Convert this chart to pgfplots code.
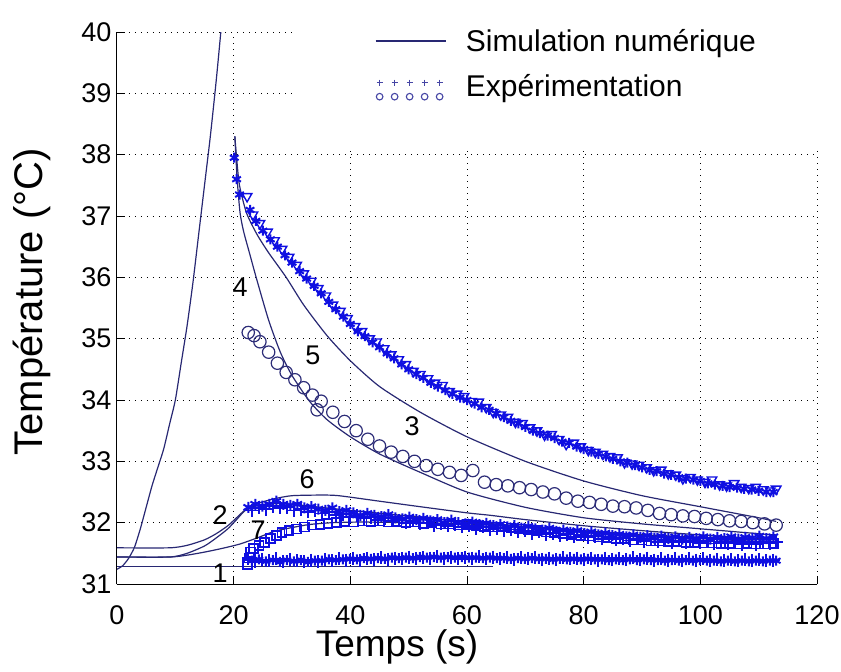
\documentclass[border=0pt]{standalone}
\usepackage{fontspec}
\setmainfont{Liberation Sans}
\usepackage{pgfplots}
\pgfplotsset{compat=1.18}
\definecolor{simline}{RGB}{40,40,115}
\definecolor{expblue}{RGB}{15,15,225}
\definecolor{circ}{RGB}{45,45,120}
\definecolor{legmark}{RGB}{70,70,165}
\newcommand{\fs}[1]{\fontsize{#1}{#1}\selectfont}
\pgfplotsset{
  simlegend/.style={legend image code/.code={\draw[simline, line width=1.2pt] (0pt,0pt) -- (70pt,0pt); \path (88pt,0pt);}},
  explegend/.style={legend image code/.code={
    \draw[legmark, only marks, mark=+, mark size=3pt, mark options={line width=1.1pt}] plot coordinates {(4pt,4pt) (19pt,4pt) (34pt,4pt) (49pt,4pt) (64pt,4pt)};
    \draw[legmark, only marks, mark=o, mark size=3.3pt, mark options={line width=1.1pt}] plot coordinates {(4pt,-10pt) (19pt,-10pt) (34pt,-10pt) (49pt,-10pt) (64pt,-10pt)};
    \path (88pt,0pt);}},
  simstyle/.style={simline, line width=1.2pt, smooth, tension=0.4, forget plot},
}
\begin{document}
\begin{tikzpicture}
\useasboundingbox (-117pt,-88pt) rectangle (724pt,584pt);
\begin{axis}[
  scale only axis, width=700pt, height=552pt,
  xmin=0, xmax=120, ymin=31, ymax=40,
  xtick={0,20,...,120}, ytick={31,32,...,40},
  axis x line*=bottom, axis y line*=left,
  axis line style={black, line width=1pt},
  tick align=inside, major tick length=8pt,
  tick style={black, line width=1pt},
  grid=major,
  major grid style={black, line width=1pt, dash pattern=on 1pt off 5pt},
  ticklabel style={font=\fs{27}},
  xticklabel style={yshift=-18pt},
  yticklabel style={xshift=-2pt},
  /pgf/number format/assume math mode=true,
  clip mode=individual,
  legend style={at={(axis cs:44.2,40.08)}, anchor=north west, draw=none, fill=none,
    font=\fs{30}, row sep=18pt, inner sep=0pt},
  legend cell align=left,
]
% ---------- simulation lines ----------
\addplot[simstyle] coordinates {
(0,31.24) (1,31.3) (2,31.42) (3,31.6) (4,31.9) (5,32.25) (6,32.6) (7,32.9) (8,33.2) (9,33.6)
(10,34.0) (11,34.6) (12,35.2) (13,35.9) (14,36.7) (15,37.5) (16,38.3) (17,39.2) (17.8,40)};
\addplot[simstyle] coordinates {
(20.2,38.3) (20.6,37.6) (21.1,37.05) (21.7,36.75) (22.7,36.4) (24,35.95) (26,35.3) (28,34.78)
(30,34.4) (33,33.98) (36,33.68) (40,33.4) (45,33.12) (52,32.82) (60,32.5) (70,32.25)
(80,32.08) (90,31.98) (100,31.9) (110,31.82) (113,31.8)};
\addplot[simstyle] coordinates {
(20.2,38.3) (20.5,37.95) (21,37.5) (22.2,37.05) (24,36.7) (26,36.4) (29,36.0) (32,35.55)
(36,35.05) (40,34.64) (45,34.22) (52,33.8) (60,33.4) (70,33.0) (80,32.68) (90,32.44)
(100,32.26) (110,32.08) (113,32.02)};
\addplot[simstyle] coordinates {
(0,31.44) (9,31.44) (12,31.5) (15,31.62) (17,31.75) (19,31.9) (20.5,32.05) (22,32.2)
(24,32.28) (27,32.31) (30,32.3) (40,32.2) (60,32.02) (80,31.86) (100,31.76) (113,31.74)};
\addplot[simstyle] coordinates {
(0,31.59) (9,31.59) (12,31.63) (15,31.72) (17,31.82) (19,31.95) (20.5,32.08) (22,32.21)
(24,32.31) (27,32.39) (30,32.44) (35,32.45) (38,32.44) (45,32.35) (52,32.26) (60,32.16)
(64,32.12) (70,32.05) (80,31.95) (90,31.87) (100,31.8) (113,31.72)};
\addplot[simstyle] coordinates {
(0,31.44) (9,31.44) (12,31.47) (15,31.52) (18,31.58) (21,31.65) (24,31.75) (27,31.86)
(30,31.92) (33,31.97) (37,32.0) (42,32.01) (50,32.0) (60,31.98) (70,31.93) (80,31.87)
(90,31.8) (100,31.74) (113,31.68)};
\addplot[simline, line width=1.2pt, forget plot] coordinates {(0,31.28) (64.4,31.28)};
% ---------- experiments ----------
% curve 5 : triangles
\addplot[expblue, only marks, mark=triangle, mark size=5.5pt, mark options={rotate=180, line width=1.4pt}, forget plot] coordinates {
(22.3,37.32) (23.3,37.02) (24.5,36.88) (25.8,36.74) (27,36.6) (28.3,36.46) (29.5,36.33) (30.8,36.2)
(32,36.06) (33.3,35.94) (34.5,35.82) (35.8,35.7) (37,35.55) (38.3,35.45) (39.5,35.33) (40.8,35.2)
(42,35.12) (43.3,35.0) (44.5,34.95) (45.8,34.84) (47,34.74) (48.3,34.66) (49.5,34.58) (50.8,34.47)
(52,34.42) (53.3,34.35) (54.5,34.28) (55.8,34.24) (57,34.14) (58.3,34.1) (59.5,34.06) (60.8,33.98)
(62,33.97) (63.3,33.88) (64.5,33.8) (65.8,33.76) (67,33.72) (68.3,33.64) (69.5,33.62) (70.8,33.55)
(72,33.5) (73.3,33.43) (74.5,33.44) (75.8,33.36) (77,33.28) (78.3,33.3) (79.5,33.24) (80.8,33.18)
(82,33.15) (83.3,33.12) (84.5,33.08) (85.8,33.06) (87,32.98) (88.3,32.96) (89.5,32.94) (90.8,32.9)
(92,32.85) (93.3,32.86) (94.5,32.8) (95.8,32.78) (97,32.72) (98.3,32.74) (99.5,32.7) (100.8,32.66)
(102,32.7) (103.3,32.62) (104.5,32.6) (105.8,32.64) (107,32.58) (108.3,32.56) (109.5,32.58)
(110.8,32.54) (112,32.52) (113,32.55)};
% curve 5 : stars
\addplot[expblue, only marks, mark=asterisk, mark size=5pt, mark options={line width=2pt}, forget plot] coordinates {
(20.1,37.95) (20.5,37.6) (21,37.35) (22.8,37.1) (23.8,36.92) (25,36.76) (26.3,36.62) (27.5,36.5)
(28.8,36.36) (30,36.24) (31.3,36.1) (32.5,35.98) (33.8,35.86) (35,35.74) (36.3,35.6) (37.5,35.48)
(38.8,35.36) (40,35.24) (41.3,35.12) (42.5,35.04) (43.8,34.94) (45,34.86) (46.3,34.76) (47.5,34.68)
(48.8,34.58) (50,34.5) (51.3,34.42) (52.5,34.36) (53.8,34.28) (55,34.22) (56.3,34.16) (57.5,34.1)
(58.8,34.04) (60,34.0) (61.3,33.94) (62.5,33.88) (63.8,33.84) (65,33.78) (66.3,33.72) (67.5,33.66)
(68.8,33.62) (70,33.56) (71.3,33.5) (72.5,33.46) (73.8,33.42) (75,33.38) (76.3,33.32) (77.5,33.3)
(78.8,33.24) (80,33.2) (81.3,33.16) (82.5,33.12) (83.8,33.08) (85,33.04) (86.3,33.0) (87.5,32.98)
(88.8,32.94) (90,32.9) (91.3,32.86) (92.5,32.84) (93.8,32.8) (95,32.78) (96.3,32.74) (97.5,32.72)
(98.8,32.7) (100,32.68) (101.3,32.64) (102.5,32.62) (103.8,32.6) (105,32.58) (106.3,32.57)
(107.5,32.55) (108.8,32.54) (110,32.52) (111.3,32.5) (112.5,32.5)};
% curve 4 : circles
\addplot[circ, only marks, mark=o, mark size=6.2pt, mark options={line width=1.2pt}, forget plot] coordinates {
(22.5,35.1) (23.5,35.05) (24.5,34.95) (26,34.78) (27.5,34.6) (29,34.45) (30.5,34.33) (32,34.2)
(33.5,34.08) (34.3,33.84) (35,33.98) (37,33.8) (39,33.65) (41,33.5) (43,33.36) (45,33.25)
(47,33.15) (49,33.08) (51,33.0) (53,32.93) (55,32.87) (57,32.82) (59,32.77) (61,32.85) (63,32.66)
(65,32.62) (67,32.6) (69,32.57) (71,32.54) (73,32.5) (75,32.47) (77,32.4) (79,32.35) (81,32.33)
(83,32.3) (85,32.27) (87,32.26) (89,32.24) (91,32.2) (93,32.15) (95,32.13) (97,32.11) (99,32.1)
(101,32.07) (103,32.05) (105,32.03) (107,32.02) (109,32.0) (111,31.98) (113,31.96)};
% curve 6 : stars
\addplot[expblue, only marks, mark=asterisk, mark size=5.5pt, mark options={line width=2pt}, forget plot] coordinates {
(22.5,32.25) (23.7,32.3) (24.9,32.27) (26.1,32.3) (27.3,32.35) (28.5,32.3) (29.7,32.28) (30.9,32.3)
(32.1,32.24) (33.3,32.26) (34.5,32.22) (35.7,32.2) (36.9,32.24) (38.1,32.18) (39.3,32.2) (40.5,32.16)
(41.7,32.12) (42.9,32.15) (44.1,32.12) (45.3,32.1) (46.5,32.13) (47.7,32.08) (48.9,32.06) (50.1,32.09)
(51.3,32.05) (52.5,32.07) (53.7,32.03) (54.9,32.05) (56.1,32.0) (57.3,32.04) (58.5,32.0) (59.7,31.98)
(60.9,32.01) (62.1,31.97) (63.3,31.99) (64.5,31.95) (65.7,31.97) (66.9,31.93) (68.1,31.95) (69.3,31.91)
(70.5,31.94) (71.7,31.9) (72.9,31.88) (74.1,31.91) (75.3,31.86) (76.5,31.88) (77.7,31.84) (78.9,31.87)
(80.1,31.82) (81.3,31.85) (82.5,31.8) (83.7,31.83) (84.9,31.79) (86.1,31.81) (87.3,31.77) (88.5,31.8)
(89.7,31.76) (90.9,31.79) (92.1,31.75) (93.3,31.78) (94.5,31.74) (95.7,31.77) (96.9,31.73) (98.1,31.76)
(99.3,31.74) (100.5,31.77) (101.7,31.73) (102.9,31.76) (104.1,31.74) (105.3,31.77) (106.5,31.73)
(107.7,31.76) (108.9,31.75) (110.1,31.78) (111.3,31.74) (112.5,31.77)};
% curve 6 : pluses
\addplot[expblue, only marks, mark=+, mark size=6.5pt, mark options={line width=1.8pt}, forget plot] coordinates {
(23.1,32.2) (24.3,32.24) (25.5,32.22) (26.7,32.27) (27.9,32.24) (29.1,32.25) (30.3,32.2) (31.5,32.22)
(32.7,32.18) (33.9,32.2) (35.1,32.15) (36.3,32.17) (37.5,32.12) (38.7,32.14) (39.9,32.1) (41.1,32.11)
(42.3,32.07) (43.5,32.09) (44.7,32.05) (45.9,32.07) (47.1,32.03) (48.3,32.04) (49.5,32.0) (50.7,32.03)
(51.9,31.99) (53.1,32.0) (54.3,31.96) (55.5,31.98) (56.7,31.95) (57.9,31.97) (59.1,31.93) (60.3,31.95)
(61.5,31.91) (62.7,31.93) (63.9,31.89) (65.1,31.91) (66.3,31.87) (67.5,31.89) (68.7,31.85) (69.9,31.87)
(71.1,31.83) (72.3,31.85) (73.5,31.81) (74.7,31.83) (75.9,31.79) (77.1,31.81) (78.3,31.77) (79.5,31.8)
(80.7,31.76) (81.9,31.78) (83.1,31.74) (84.3,31.77) (85.5,31.73) (86.7,31.75) (87.9,31.71) (89.1,31.74)
(90.3,31.7) (91.5,31.73) (92.7,31.69) (93.9,31.72) (95.1,31.68) (96.3,31.71) (97.5,31.68) (98.7,31.7)
(99.9,31.67) (101.1,31.7) (102.3,31.66) (103.5,31.69) (104.7,31.66) (105.9,31.69) (107.1,31.65)
(108.3,31.68) (109.5,31.65) (110.7,31.68) (111.9,31.66) (113,31.68)};
% curve 7 : squares
\addplot[expblue, only marks, mark=square, mark size=4.5pt, mark options={line width=1.5pt}, forget plot] coordinates {
(22.4,31.32) (22.6,31.42) (22.9,31.52) (23.4,31.58) (24.3,31.63) (25.3,31.68) (26.3,31.74) (27.3,31.79)
(28.3,31.84) (29.5,31.87) (30.8,31.9) (32.1,31.93) (33.4,31.96) (34.8,31.97) (36.2,31.99) (37.6,32.0)
(39,32.02) (40.5,32.01) (42,32.03) (43.5,32.02) (45,32.03) (46.5,32.01) (48,32.02) (49.5,32.0)
(51,32.01) (52.5,31.99) (54,32.0) (55.5,31.98) (57,31.98) (58.5,31.96) (60,31.97) (61.5,31.95)
(63,31.94) (64.5,31.93) (66,31.93) (67.5,31.91) (69,31.9) (70.5,31.88) (72,31.87) (73.5,31.85)
(75,31.84) (76.5,31.82) (78,31.81) (79.5,31.79) (81,31.78) (82.5,31.77) (84,31.76) (85.5,31.74)
(87,31.74) (88.5,31.72) (90,31.72) (91.5,31.7) (93,31.7) (94.5,31.69) (96,31.69) (97.5,31.68)
(99,31.68) (100.5,31.67) (102,31.67) (103.5,31.66) (105,31.66) (106.5,31.65) (108,31.66)
(109.5,31.65) (111,31.65) (112.5,31.66)};
% curve 1 : pluses
\addplot[expblue, only marks, mark=+, mark size=6.5pt, mark options={line width=1.8pt}, forget plot] coordinates {
(22.5,31.42) (23.7,31.36) (24.9,31.4) (26.1,31.38) (27.3,31.41) (28.5,31.37) (29.7,31.4) (30.9,31.38)
(32.1,31.36) (33.3,31.39) (34.5,31.37) (35.7,31.4) (36.9,31.38) (38.1,31.41) (39.3,31.39) (40.5,31.42)
(41.7,31.39) (42.9,31.41) (44.1,31.4) (45.3,31.43) (46.5,31.4) (47.7,31.42) (48.9,31.41) (50.1,31.44)
(51.3,31.41) (52.5,31.43) (53.7,31.42) (54.9,31.45) (56.1,31.42) (57.3,31.44) (58.5,31.41) (59.7,31.44)
(60.9,31.42) (62.1,31.45) (63.3,31.42) (64.5,31.44) (65.7,31.41) (66.9,31.43) (68.1,31.4) (69.3,31.43)
(70.5,31.41) (71.7,31.43) (72.9,31.4) (74.1,31.42) (75.3,31.4) (76.5,31.43) (77.7,31.41) (78.9,31.42)
(80.1,31.4) (81.3,31.42) (82.5,31.39) (83.7,31.42) (84.9,31.4) (86.1,31.42) (87.3,31.4) (88.5,31.43)
(89.7,31.4) (90.9,31.42) (92.1,31.39) (93.3,31.41) (94.5,31.39) (95.7,31.41) (96.9,31.38) (98.1,31.41)
(99.3,31.39) (100.5,31.41) (101.7,31.38) (102.9,31.4) (104.1,31.38) (105.3,31.4) (106.5,31.38)
(107.7,31.4) (108.9,31.38) (110.1,31.4) (111.3,31.38) (112.5,31.39)};
% curve 1 : stars
\addplot[expblue, only marks, mark=asterisk, mark size=5pt, mark options={line width=2pt}, forget plot] coordinates {
(23.1,31.38) (24.3,31.4) (25.5,31.37) (26.7,31.39) (27.9,31.36) (29.1,31.39) (30.3,31.37) (31.5,31.39)
(32.7,31.36) (33.9,31.38) (35.1,31.38) (36.3,31.4) (37.5,31.39) (38.7,31.4) (39.9,31.41) (41.1,31.4)
(42.3,31.42) (43.5,31.41) (44.7,31.42) (45.9,31.41) (47.1,31.43) (48.3,31.42) (49.5,31.43) (50.7,31.42)
(51.9,31.44) (53.1,31.43) (54.3,31.44) (55.5,31.43) (56.7,31.44) (57.9,31.43) (59.1,31.44) (60.3,31.43)
(61.5,31.43) (62.7,31.42) (63.9,31.43) (65.1,31.42) (66.3,31.42) (67.5,31.41) (68.7,31.42) (69.9,31.41)
(71.1,31.42) (72.3,31.41) (73.5,31.41) (74.7,31.4) (75.9,31.41) (77.1,31.4) (78.3,31.41) (79.5,31.4)
(80.7,31.41) (81.9,31.4) (83.1,31.4) (84.3,31.39) (85.5,31.4) (86.7,31.39) (87.9,31.4) (89.1,31.39)
(90.3,31.4) (91.5,31.39) (92.7,31.39) (93.9,31.38) (95.1,31.39) (96.3,31.38) (97.5,31.39) (98.7,31.38)
(99.9,31.39) (101.1,31.38) (102.3,31.38) (103.5,31.37) (104.7,31.38) (105.9,31.37) (107.1,31.38)
(108.3,31.37) (109.5,31.38) (110.7,31.37) (111.9,31.38) (113,31.38)};
% ---------- legend background ----------
\fill[white] (axis cs:30.5,38.13) rectangle (axis cs:125,41.6);
% ---------- legend ----------
\addlegendimage{simlegend}
\addlegendentry{Simulation numérique}
\addlegendimage{explegend}
\addlegendentry{Expérimentation}
% ---------- curve numbers ----------
\node[font=\fs{27}] at (axis cs:21.1,35.84) {4};
\node[font=\fs{27}] at (axis cs:33.6,34.73) {5};
\node[font=\fs{27}] at (axis cs:50.6,33.58) {3};
\node[font=\fs{27}] at (axis cs:32.6,32.71) {6};
\node[font=\fs{27}] at (axis cs:17.7,32.12) {2};
\node[font=\fs{27}] at (axis cs:24.2,31.87) {7};
\node[font=\fs{27}] at (axis cs:17.7,31.18) {1};
% ---------- axis labels ----------
\node[font=\fs{37}, anchor=base] at (axis cs:48,29.81) {Temps (s)};
\node[font=\fs{40}, rotate=90, anchor=base] at (axis cs:-12.7,35.6) {Température (°C)};
\end{axis}
\end{tikzpicture}
\end{document}
